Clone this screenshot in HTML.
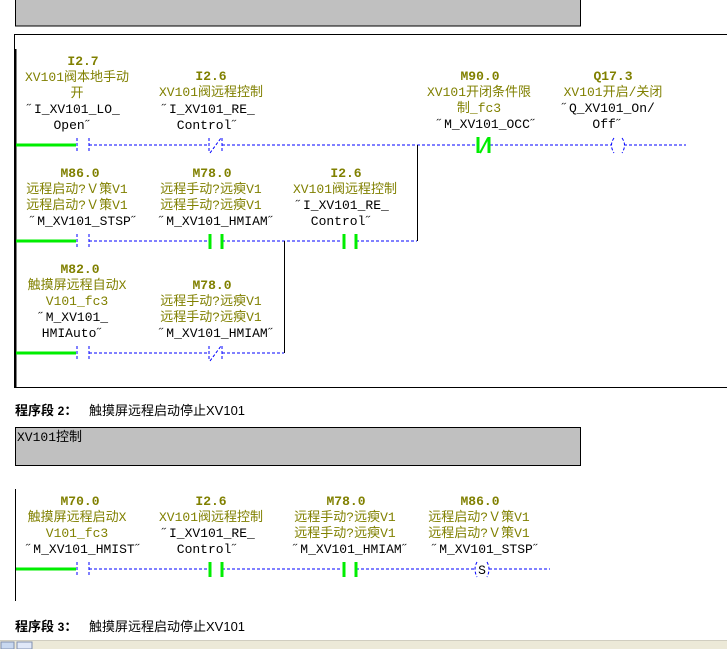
<!DOCTYPE html>
<html><head><meta charset="utf-8"><style>
html,body{margin:0;padding:0;background:#fff;width:727px;height:649px;overflow:hidden}
svg text{font-family:"Liberation Mono","Noto Sans CJK SC",monospace;font-size:13px}
.o{fill:#808000}
.b{fill:#808000;font-weight:bold}
.k{fill:#000}
.d{stroke:#0000ff;stroke-width:1;stroke-dasharray:3,2;fill:none}
.g{stroke:#00ee00;stroke-width:3;fill:none}
.gl{stroke:#00ee00;stroke-width:3}
.t{font-family:"Liberation Sans","Noto Sans CJK SC",sans-serif;font-size:13px}
</style></head><body>
<svg width="727" height="649" viewBox="0 0 727 649" xmlns="http://www.w3.org/2000/svg">
<!-- top gray box -->
<rect x="15.5" y="-5" width="565" height="31" fill="#c0c0c0" stroke="#000" stroke-width="1"/>
<!-- network frame -->
<path d="M727 34.5H14.5V387.5H727" stroke="#000" fill="none"/>
<line x1="15.5" y1="49" x2="15.5" y2="387" stroke="#000" stroke-width="2"/>

<!-- rung 1 y=145 -->
<line x1="16" y1="145" x2="76" y2="145" class="gl"/>
<path class="d" d="M77 138V153M89 138V153M89 145H208M209 138V153M222 138V153M210 153L221 138M222 145H477M490 145H612M624 145H686"/>
<path class="g" d="M478 137V153M489 137V153"/>
<path d="M480 153L488 138" stroke="#00ee00" stroke-width="2"/>
<path class="d" d="M614 138Q609 145 614 153M622 138Q627 145 622 153"/>
<line x1="417.5" y1="145" x2="417.5" y2="241" stroke="#000"/>
<text x="83" y="65" text-anchor="middle" class="b">I2.7</text>
<text x="77" y="81" text-anchor="middle" class="o">XV101阀本地手动</text>
<text x="77" y="97" text-anchor="middle" class="o">开</text>
<text x="73" y="113" text-anchor="middle" class="k">˝I_XV101_LO_</text>
<text x="73" y="129" text-anchor="middle" class="k">Open˝</text>
<text x="211" y="80" text-anchor="middle" class="b">I2.6</text>
<text x="211" y="96" text-anchor="middle" class="o">XV101阀远程控制</text>
<text x="208" y="113" text-anchor="middle" class="k">˝I_XV101_RE_</text>
<text x="208" y="129" text-anchor="middle" class="k">Control˝</text>
<text x="480" y="80" text-anchor="middle" class="b">M90.0</text>
<text x="479" y="96" text-anchor="middle" class="o">XV101开闭条件限</text>
<text x="479" y="112" text-anchor="middle" class="o">制_fc3</text>
<text x="487" y="128" text-anchor="middle" class="k">˝M_XV101_OCC˝</text>
<text x="613" y="80" text-anchor="middle" class="b">Q17.3</text>
<text x="613" y="96" text-anchor="middle" class="o">XV101开启/关闭</text>
<text x="608" y="112" text-anchor="middle" class="k">˝Q_XV101_On/</text>
<text x="608" y="128" text-anchor="middle" class="k">Off˝</text>

<!-- rung 2 y=241 -->
<line x1="16" y1="241" x2="76" y2="241" class="gl"/>
<path class="d" d="M77 234V249M89 234V249M89 241H208M222 241H342M356 241H417"/>
<path class="g" d="M210 234V249M222 234V249M344 234V249M356 234V249"/>
<line x1="284.5" y1="241" x2="284.5" y2="353" stroke="#000"/>
<text x="80" y="177" text-anchor="middle" class="b">M86.0</text>
<text x="77" y="193" text-anchor="middle" class="o">远程启动?Ｖ策V1</text>
<text x="77" y="209" text-anchor="middle" class="o">远程启动?Ｖ策V1</text>
<text x="84" y="225" text-anchor="middle" class="k">˝M_XV101_STSP˝</text>
<text x="212" y="177" text-anchor="middle" class="b">M78.0</text>
<text x="211" y="193" text-anchor="middle" class="o">远程手动?远瘐V1</text>
<text x="211" y="209" text-anchor="middle" class="o">远程手动?远瘐V1</text>
<text x="217" y="225" text-anchor="middle" class="k">˝M_XV101_HMIAM˝</text>
<text x="346" y="177" text-anchor="middle" class="b">I2.6</text>
<text x="345" y="193" text-anchor="middle" class="o">XV101阀远程控制</text>
<text x="342" y="209" text-anchor="middle" class="k">˝I_XV101_RE_</text>
<text x="342" y="225" text-anchor="middle" class="k">Control˝</text>

<!-- rung 3 y=353 -->
<line x1="16" y1="353" x2="76" y2="353" class="gl"/>
<path class="d" d="M77 346V361M89 346V361M89 353H208M209 346V361M222 346V361M210 361L221 346M222 353H284"/>
<text x="80" y="273" text-anchor="middle" class="b">M82.0</text>
<text x="77" y="289" text-anchor="middle" class="o">触摸屏远程自动X</text>
<text x="77" y="305" text-anchor="middle" class="o">V101_fc3</text>
<text x="73" y="321" text-anchor="middle" class="k">˝M_XV101_</text>
<text x="73" y="337" text-anchor="middle" class="k">HMIAuto˝</text>
<text x="212" y="289" text-anchor="middle" class="b">M78.0</text>
<text x="211" y="305" text-anchor="middle" class="o">远程手动?远瘐V1</text>
<text x="211" y="321" text-anchor="middle" class="o">远程手动?远瘐V1</text>
<text x="217" y="337" text-anchor="middle" class="k">˝M_XV101_HMIAM˝</text>

<!-- section 2 -->
<text x="15" y="415" class="t" style="font-weight:bold">程序段 <tspan font-size="12">2</tspan>：</text>
<text x="89" y="415" class="t">触摸屏远程启动停止XV101</text>
<rect x="15.5" y="427.5" width="565" height="38" fill="#c0c0c0" stroke="#000"/>
<text x="17" y="441" class="k">XV101控制</text>

<!-- rung 4 -->
<line x1="15.5" y1="489" x2="15.5" y2="601" stroke="#000"/>
<line x1="16" y1="569" x2="76" y2="569" class="gl"/>
<path class="d" d="M77 562V577M89 562V577M89 569H208M222 569H342M356 569H474M489 569H550"/>
<path class="g" d="M210 562V577M222 562V577M344 562V577M356 562V577"/>
<path class="d" d="M477 562Q473 569 477 577M487 562Q491 569 487 577"/>
<text x="482" y="574" text-anchor="middle" class="k" font-size="12">S</text>
<text x="80" y="505" text-anchor="middle" class="b">M70.0</text>
<text x="77" y="521" text-anchor="middle" class="o">触摸屏远程启动X</text>
<text x="77" y="537" text-anchor="middle" class="o">V101_fc3</text>
<text x="84" y="553" text-anchor="middle" class="k">˝M_XV101_HMIST˝</text>
<text x="211" y="505" text-anchor="middle" class="b">I2.6</text>
<text x="211" y="521" text-anchor="middle" class="o">XV101阀远程控制</text>
<text x="208" y="537" text-anchor="middle" class="k">˝I_XV101_RE_</text>
<text x="208" y="553" text-anchor="middle" class="k">Control˝</text>
<text x="346" y="505" text-anchor="middle" class="b">M78.0</text>
<text x="345" y="521" text-anchor="middle" class="o">远程手动?远瘐V1</text>
<text x="345" y="537" text-anchor="middle" class="o">远程手动?远瘐V1</text>
<text x="351" y="553" text-anchor="middle" class="k">˝M_XV101_HMIAM˝</text>
<text x="480" y="505" text-anchor="middle" class="b">M86.0</text>
<text x="479" y="521" text-anchor="middle" class="o">远程启动?Ｖ策V1</text>
<text x="479" y="537" text-anchor="middle" class="o">远程启动?Ｖ策V1</text>
<text x="486" y="553" text-anchor="middle" class="k">˝M_XV101_STSP˝</text>

<!-- section 3 -->
<text x="15" y="631" class="t" style="font-weight:bold">程序段 <tspan font-size="12">3</tspan>：</text>
<text x="89" y="631" class="t">触摸屏远程启动停止XV101</text>

<!-- bottom bar -->
<rect x="0" y="640" width="727" height="9" fill="#ece9d8"/>
<line x1="0" y1="640.5" x2="727" y2="640.5" stroke="#d0cdc0"/>
<rect x="1" y="642" width="13" height="7" fill="#c8d8f0" stroke="#8090b0"/>
<rect x="17" y="642" width="15" height="7" fill="#e0e8f8" stroke="#8090b0"/>
</svg>
</body></html>
